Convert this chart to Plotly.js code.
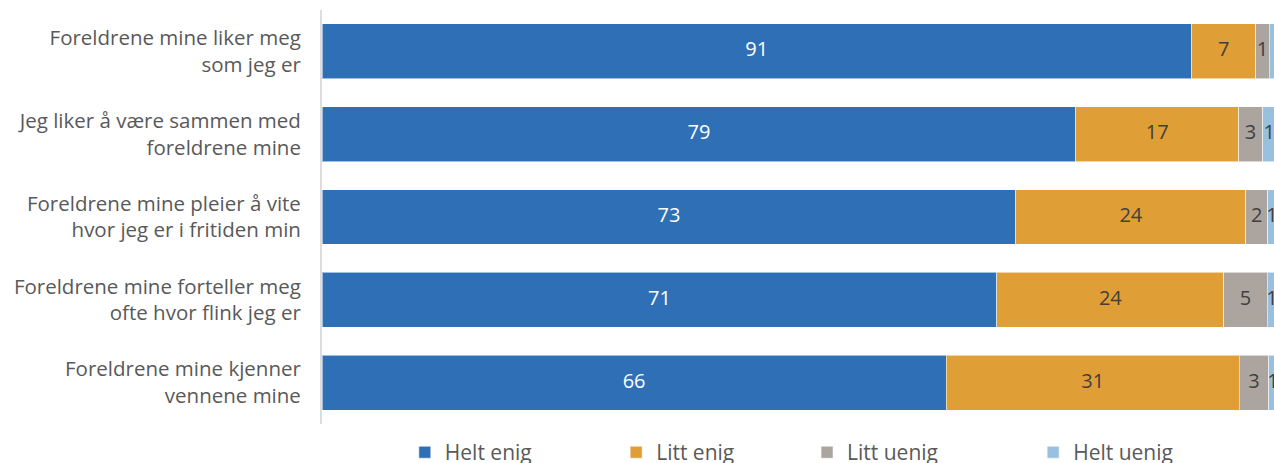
<!DOCTYPE html>
<html>
<head>
<meta charset="utf-8">
<script src="https://cdn.plot.ly/plotly-3.0.1.min.js"></script>
<style>
  html, body { margin: 0; padding: 0; background: #ffffff; overflow: hidden; }
  #chart { width: 1274px; height: 480px; }
</style>
</head>
<body>
<div id="chart"></div>
<script>
// ---- data ----
const categories = [
  "Foreldrene mine liker meg<br>som jeg er",
  "Jeg liker å være sammen med<br>foreldrene mine",
  "Foreldrene mine pleier å vite<br>hvor jeg er i fritiden min",
  "Foreldrene mine forteller meg<br>ofte hvor flink jeg er",
  "Foreldrene mine kjenner<br>vennene mine"
];
const seriesNames = ["Helt enig", "Litt enig", "Litt uenig", "Helt uenig"];
const heltEnig  = [91.07, 78.95, 72.67, 70.68, 65.37];
const littEnig  = [6.73, 17.04, 24.08, 23.77, 30.68];
const littUenig = [1.39, 2.51, 2.30, 4.53, 3.08];
const heltUenig = [0.8, 1.4, 0.9, 1.0, 0.9];
const heltEnigLabels  = ["91", "79", "73", "71", "66"];
const littEnigLabels  = ["7", "17", "24", "24", "31"];
const littUenigLabels = ["1", "3", "2", "5", "3"];
const heltUenigLabels = ["", "1", "1", "1", "1"];

const series = [heltEnig, littEnig, littUenig, heltUenig];
const labels = [heltEnigLabels, littEnigLabels, littUenigLabels, heltUenigLabels];
const colors = ["#2e6fb6", "#e09e36", "#aca59f", "#97c1de"];
const textColors = ["#ffffff", "#404040", "#404040", "#404040"];
const legendIds = ["legend", "legend2", "legend3", "legend4"];
const FONT = "'Open Sans', Roboto, sans-serif";

const traces = [];
const cum = categories.map(() => 0);
series.forEach((vals, i) => {
  traces.push({
    type: "bar",
    orientation: "h",
    name: seriesNames[i],
    y: categories,
    x: vals,
    marker: { color: colors[i], line: { color: "rgba(255,255,255,0.55)", width: 1 } },
    hoverinfo: "skip",
    legend: legendIds[i]
  });
  const mids = vals.map((v, j) => cum[j] + v / 2);
  traces.push({
    type: "scatter",
    mode: "text",
    y: categories,
    x: mids,
    text: labels[i],
    textposition: "middle center",
    textfont: { family: FONT, size: 20, color: textColors[i] },
    cliponaxis: false,
    showlegend: false,
    hoverinfo: "skip"
  });
  vals.forEach((v, j) => { cum[j] += v; });
});

const legendFont = { family: FONT, size: 21, color: "#595959" };
function mkLegend(x) {
  return {
    orientation: "h", x: x, xanchor: "left", y: -0.069, yanchor: "middle",
    font: legendFont, bgcolor: "rgba(0,0,0,0)", borderwidth: 0, itemclick: false
  };
}

const layout = {
  width: 1274,
  height: 480,
  margin: { l: 322, r: 0, t: 10, b: 56, pad: 0 },
  paper_bgcolor: "#ffffff",
  plot_bgcolor: "#ffffff",
  barmode: "stack",
  bargap: 0.336,
  showlegend: true,
  xaxis: {
    range: [0, 99.7],
    visible: false,
    showgrid: false,
    zeroline: false,
    fixedrange: true
  },
  yaxis: {
    type: "category",
    categoryorder: "array",
    categoryarray: categories,
    autorange: "reversed",
    showline: true,
    linecolor: "#dddddd",
    linewidth: 2,
    showgrid: false,
    zeroline: false,
    ticks: "",
    ticklabelstandoff: 15,
    tickfont: { family: FONT, size: 20.5, color: "#595959" },
    automargin: false,
    fixedrange: true
  },
  legend: mkLegend(0.087),
  legend2: mkLegend(0.309),
  legend3: mkLegend(0.5095),
  legend4: mkLegend(0.747),
  hovermode: false
};

Plotly.newPlot("chart", traces, layout, { displayModeBar: false, staticPlot: true, responsive: false });
</script>
</body>
</html>
